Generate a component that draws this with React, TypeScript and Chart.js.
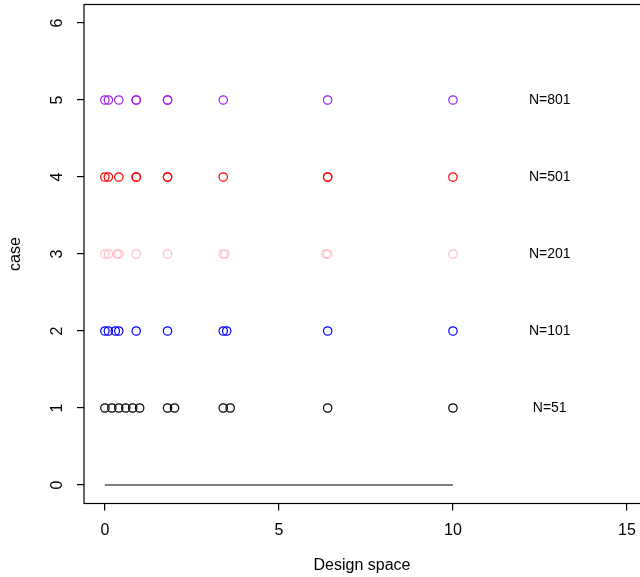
import React, { useEffect, useRef } from "react";
import { Chart, registerables } from "chart.js";

Chart.register(...registerables);

const caseLabels = ["N=51", "N=101", "N=201", "N=501", "N=801"];
const caseColors = ["#000000", "#0000FF", "#FFC0CB", "#FF0000", "#A020F0"];
const xCase1 = [0, 0.2, 0.4, 0.6, 0.8, 1.0, 1.8, 2.0, 3.4, 3.6, 6.4, 10];
const xCase2 = [0, 0.1, 0.3, 0.4, 0.9, 1.8, 3.4, 3.5, 6.4, 10];
const xCase3 = [0, 0.1, 0.35, 0.4, 0.9, 1.8, 3.4, 3.45, 6.35, 6.4, 10];
const xCase4 = [0, 0.1, 0.4, 0.9, 0.9, 1.8, 1.8, 3.4, 6.4, 6.4, 10];
const xCase5 = [0, 0.1, 0.4, 0.9, 0.9, 1.8, 1.8, 3.4, 6.4, 10];
const caseXs = [xCase1, xCase2, xCase3, xCase4, xCase5];
const baseLineX = [0, 10];
const labelX = 12.78;
const xTicks = [0, 5, 10, 15];
const yTicks = [0, 1, 2, 3, 4, 5, 6];

const FONT = "'Liberation Sans', Arial, sans-serif";

const zeroPad = (s: any) => {
  s.paddingTop = 0;
  s.paddingBottom = 0;
  s.paddingLeft = 0;
  s.paddingRight = 0;
};

export default function App() {
  const ref = useRef<HTMLCanvasElement | null>(null);
  useEffect(() => {
    document.body.style.margin = "0";
    const canvas = ref.current!;
    const datasets: any[] = caseXs.map((xs, i) => ({
      type: "scatter",
      label: caseLabels[i],
      data: xs.map((x) => ({ x, y: i + 1 })),
      borderColor: caseColors[i],
      backgroundColor: "rgba(0,0,0,0)",
      pointRadius: 4.2,
      pointBorderWidth: 1.2,
      pointStyle: "circle",
      showLine: false,
    }));
    datasets.push({
      type: "line",
      label: "base",
      data: baseLineX.map((x) => ({ x, y: 0 })),
      borderColor: "#000",
      borderWidth: 1.2,
      pointRadius: 0,
      fill: false,
    });

    const boxAndText = {
      id: "boxAndText",
      afterDraw(chart: any) {
        const { ctx, chartArea, scales } = chart;
        ctx.save();
        ctx.strokeStyle = "#000";
        ctx.lineWidth = 1.2;
        ctx.strokeRect(chartArea.left, chartArea.top, chartArea.right + 20 - chartArea.left, chartArea.bottom - chartArea.top);
        ctx.fillStyle = "#000";
        ctx.textAlign = "center";
        ctx.textBaseline = "middle";
        ctx.font = `16px ${FONT}`;
        xTicks.forEach((v) => {
          ctx.fillText(String(v), scales.x.getPixelForValue(v), chartArea.bottom + 27.5);
        });
        ctx.font = `14px ${FONT}`;
        caseLabels.forEach((t, i) => {
          ctx.fillText(t, scales.x.getPixelForValue(labelX), scales.y.getPixelForValue(i + 1));
        });
        ctx.restore();
      },
    };

    const chart = new Chart(canvas, {
      type: "scatter",
      data: { datasets },
      options: {
        responsive: false,
        animation: false,
        devicePixelRatio: 1,
        layout: { autoPadding: false, padding: { top: 4.5, left: 0, right: 0, bottom: 0 } },
        plugins: { legend: { display: false }, tooltip: { enabled: false } },
        scales: {
          x: {
            type: "linear",
            min: -0.6,
            max: (640 - 105) / 34.8,
            afterBuildTicks: (s: any) => {
              s.ticks = xTicks.map((v) => ({ value: v }));
            },
            afterFit: (s: any) => {
              s.height = 73.5;
              zeroPad(s);
            },
            grid: { drawOnChartArea: false, drawTicks: true, tickLength: 7, color: "#000", lineWidth: 1.2 },
            border: { display: false },
            ticks: { display: false, autoSkip: false },
            title: { display: true, text: "Design space", color: "#000", font: { family: FONT, size: 16 }, padding: { top: 0, bottom: 2 } },
          },
          y: {
            type: "linear",
            min: -0.24,
            max: 6.24,
            afterBuildTicks: (s: any) => {
              s.ticks = yTicks.map((v) => ({ value: v }));
            },
            afterFit: (s: any) => {
              s.width = 84;
              zeroPad(s);
            },
            grid: { drawOnChartArea: false, drawTicks: true, tickLength: 7, color: "#000", lineWidth: 1.2 },
            border: { display: false },
            ticks: { color: "#000", font: { family: FONT, size: 16 }, padding: 15, minRotation: 90, maxRotation: 90, crossAlign: "center", autoSkip: false },
            title: { display: true, text: "case", color: "#000", font: { family: FONT, size: 16 }, padding: { top: 6, bottom: 0 } },
          },
        },
      } as any,
      plugins: [boxAndText],
    });
    return () => chart.destroy();
  }, []);
  return (
    <div style={{ position: "absolute", left: 0, top: 0, width: 640, height: 577, background: "#fff" }}>
      <canvas ref={ref} width={640} height={577} style={{ display: "block" }} />
    </div>
  );
}
